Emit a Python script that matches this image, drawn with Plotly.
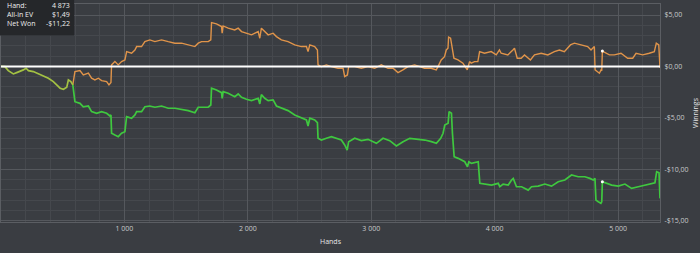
import plotly.graph_objects as go

# Shared segment (before first all-in divergence)
shared_hands = [0, 32, 59, 100, 127, 154, 181, 203, 222, 262, 303, 343, 384, 424, 452, 479, 506, 533, 546, 566, 582]
shared_vals = [0.0, -0.02, -0.41, -0.73, -0.6, -0.5, -0.34, -0.18, -0.41, -0.5, -0.73, -0.92, -1.15, -1.48, -1.8, -2.12, -2.22, -2.03, -1.31, -1.48, -1.8]

# All-in EV (orange)
ev_hands = [582, 599, 640, 667, 708, 734, 761, 789, 815, 856, 875, 891, 896, 923, 950, 977, 1004, 1018, 1058, 1085,
            1099, 1139, 1166, 1206, 1247, 1301, 1355, 1409, 1463, 1517, 1571, 1598, 1625, 1679, 1700, 1706, 1746, 1787,
            1792, 1800, 1841, 1894, 1922, 1949, 1989, 2030, 2084, 2097, 2110, 2137, 2165, 2205, 2232, 2272, 2326, 2380,
            2434, 2475, 2488, 2502, 2542, 2564, 2569, 2596, 2637, 2677, 2731, 2772, 2785, 2807, 2817, 2866, 2920, 2974,
            3028, 3082, 3136, 3177, 3217, 3257, 3298, 3351, 3392, 3432, 3486, 3527, 3541, 3567, 3594, 3608, 3622, 3627,
            3643, 3654, 3670, 3703, 3743, 3778, 3797, 3810, 3837, 3864, 3878, 3918, 3972, 4013, 4039, 4053, 4107, 4148,
            4161, 4183, 4215, 4242, 4290, 4323, 4377, 4431, 4484, 4525, 4565, 4614, 4646, 4700, 4754, 4781, 4808, 4814,
            4835, 4849, 4862, 4868, 4873, 4930, 4970, 5024, 5078, 5119, 5146, 5200, 5253, 5294, 5310, 5330, 5340]
ev_vals = [-1.8, -0.5, -0.41, -0.83, -0.66, -1.15, -1.31, -1.15, -1.38, -1.48, -1.8, -1.57, 0.15, 0.47, 0.15, 0.47, 0.63, 1.44, 1.28, 1.6,
           1.93, 1.93, 2.41, 2.58, 2.41, 2.58, 2.41, 2.26, 2.26, 2.09, 1.93, 2.26, 2.41, 2.41, 2.58, 4.26, 4.14, 3.88,
           3.23, 3.94, 3.72, 3.55, 3.72, 3.39, 3.23, 3.07, 3.39, 2.74, 3.72, 3.39, 3.07, 3.23, 2.9, 2.58, 2.41, 2.09,
           1.93, 1.93, 1.44, 2.09, 1.93, 1.6, 0.15, -0.02, 0.15, -0.02, -0.18, -0.18, -0.99, -0.83, -0.02, -0.02, -0.18, -0.02,
           -0.18, 0.15, -0.18, -0.18, -0.6, -0.34, -0.02, 0.15, -0.02, -0.18, -0.18, -0.34, -0.02, 0.63, 0.95, 1.6, 1.77, 2.84,
           2.74, 1.93, 0.8, 0.63, 0.31, -0.34, 0.47, 0.31, 0.47, 0.47, 1.44, 1.28, 1.44, 1.12, 1.6, 1.28, 1.12, 1.6,
           1.77, 0.8, 0.8, 1.12, 0.63, 1.12, 1.28, 1.12, 1.44, 1.6, 1.44, 2.09, 2.26, 2.09, 1.93, 1.6, 1.93, -0.34,
           -0.51, -0.66, -0.34, -0.41, 1.49, 1.12, 1.12, 1.28, 0.8, 0.8, 1.28, 1.12, 1.28, 1.44, 2.26, 2.09, -0.15]

# Net Won (green)
net_hands = [582, 599, 640, 667, 708, 734, 775, 815, 856, 883, 891, 896, 923, 950, 977, 1004, 1018, 1058, 1085, 1099,
             1139, 1166, 1206, 1247, 1301, 1355, 1409, 1463, 1517, 1571, 1598, 1625, 1679, 1700, 1706, 1746, 1787, 1792,
             1800, 1841, 1894, 1922, 1949, 1989, 2030, 2084, 2097, 2110, 2137, 2165, 2205, 2232, 2272, 2326, 2380, 2434,
             2475, 2488, 2502, 2542, 2564, 2569, 2596, 2637, 2677, 2758, 2785, 2805, 2817, 2866, 2920, 2974, 3042, 3096,
             3150, 3204, 3258, 3312, 3380, 3434, 3488, 3528, 3563, 3582, 3596, 3623, 3631, 3650, 3658, 3672, 3704, 3758,
             3780, 3791, 3813, 3867, 3880, 3921, 3975, 4029, 4042, 4069, 4110, 4137, 4151, 4177, 4218, 4272, 4299, 4353,
             4407, 4461, 4515, 4569, 4623, 4677, 4731, 4772, 4799, 4813, 4821, 4840, 4861, 4868, 4873, 4948, 5002, 5056,
             5110, 5164, 5218, 5272, 5299, 5313, 5332, 5340]
net_vals = [-1.8, -3.43, -3.59, -3.92, -3.85, -4.4, -4.56, -4.4, -4.56, -4.82, -4.72, -6.5, -6.67, -6.83, -6.5, -6.35, -4.89, -5.04, -4.72, -4.4,
            -4.4, -3.92, -3.85, -3.97, -3.85, -4.07, -4.07, -4.17, -4.3, -4.5, -3.97, -3.97, -3.97, -3.75, -2.12, -2.29, -2.55, -3.1,
            -2.45, -2.61, -2.94, -2.68, -3.0, -3.19, -3.33, -3.1, -3.65, -2.75, -3.1, -3.33, -3.26, -3.85, -4.07, -4.3, -4.72, -5.04,
            -5.21, -5.79, -5.04, -5.21, -5.47, -6.99, -7.16, -6.99, -6.83, -7.16, -7.64, -8.13, -7.32, -6.99, -7.22, -7.09, -7.48, -6.99,
            -7.22, -7.74, -7.32, -6.99, -7.09, -7.16, -7.32, -7.48, -6.99, -6.5, -5.7, -5.53, -4.4, -4.56, -6.5, -8.78, -8.94, -9.27,
            -9.76, -9.27, -9.43, -9.27, -11.37, -11.44, -11.54, -11.37, -11.7, -11.44, -11.54, -11.05, -10.89, -11.7, -11.7, -12.03, -11.7, -11.64,
            -11.44, -11.64, -11.22, -11.05, -10.56, -10.73, -10.73, -10.89, -11.05, -10.89, -13.0, -13.16, -13.32, -13.16, -11.22, -11.54, -11.64, -11.44,
            -11.86, -11.7, -11.54, -11.44, -11.31, -10.24, -10.34, -12.83]

# Hover readout
hover_hand = 4873
hover_ev = 1.49
hover_net = -11.22

x_tick_vals = [1000, 2000, 3000, 4000, 5000]
x_tick_text = ["1 000", "2 000", "3 000", "4 000", "5 000"]
y_tick_vals = [5, 0, -5, -10, -15]
y_tick_text = ["$5,00", "$0,00", "-$5,00", "-$10,00", "-$15,00"]

BG = "#3a3d42"
ORANGE = "#e0944a"
GREEN = "#3fc83f"
SHARED = "#a3c143"
FONT = "Open Sans"

fig = go.Figure()
fig.add_trace(go.Scatter(x=ev_hands, y=ev_vals, mode="lines", line=dict(color=ORANGE, width=1.4)))
fig.add_trace(go.Scatter(x=net_hands, y=net_vals, mode="lines", line=dict(color=GREEN, width=1.7)))
fig.add_trace(go.Scatter(x=shared_hands, y=shared_vals, mode="lines", line=dict(color=SHARED, width=1.7)))
fig.add_trace(go.Scatter(x=[hover_hand, hover_hand], y=[hover_ev, hover_net], mode="markers",
                         marker=dict(color="white", size=3)))

fig.add_shape(type="line", xref="paper", x0=0, x1=1, yref="y", y0=0, y1=0,
              line=dict(color="white", width=2), layer="above")

# Tooltip box
fig.add_shape(type="rect", xref="paper", yref="paper", x0=-0.002, x1=0.111, y0=0.855, y1=1.02,
              fillcolor="#25272a", line=dict(width=0), layer="above")
labels = ["Hand:", "All-in EV", "Net Won"]
values = [f"{hover_hand:,}".replace(",", " "), f"${hover_ev:.2f}".replace(".", ","),
          f"-${abs(hover_net):.2f}".replace(".", ",")]
ys = [0.992, 0.952, 0.912]
for lab, val, yy in zip(labels, values, ys):
    fig.add_annotation(xref="paper", yref="paper", x=0.006, y=yy, text=lab, showarrow=False,
                       xanchor="left", yanchor="middle", font=dict(family=FONT, size=7, color="#eeeeee"))
    fig.add_annotation(xref="paper", yref="paper", x=0.108, y=yy, text=val, showarrow=False,
                       xanchor="right", yanchor="middle", font=dict(family=FONT, size=7, color="#eeeeee"))

fig.update_layout(
    width=700, height=253,
    margin=dict(l=1, r=40, t=4, b=31),
    paper_bgcolor=BG, plot_bgcolor=BG,
    showlegend=False,
    font=dict(family=FONT, size=8, color="#c9cacc"),
    xaxis=dict(range=[0, 5340], tickvals=x_tick_vals, ticktext=x_tick_text,
               showgrid=True, gridcolor="#55585d", gridwidth=1, zeroline=False,
               showline=True, linecolor="#5b5e63", mirror=True, ticks="",
               minor=dict(dtick=200, tick0=0, showgrid=True, gridcolor="#45484d", gridwidth=1),
               title=dict(text="Hands", font=dict(size=7, color="#e6e6e6"), standoff=6),
               tickfont=dict(size=7)),
    yaxis=dict(range=[-15.13, 6.07], side="right", tickvals=y_tick_vals, ticktext=y_tick_text,
               showgrid=True, gridcolor="#55585d", gridwidth=1, zeroline=False,
               showline=True, linecolor="#5b5e63", mirror=True, ticks="",
               minor=dict(dtick=1, tick0=0, showgrid=True, gridcolor="#45484d", gridwidth=1),
               title=dict(text="Winnings", font=dict(size=7, color="#e6e6e6"), standoff=5),
               tickfont=dict(size=7), ticklabelstandoff=2),
)

fig.write_html("out.html")
